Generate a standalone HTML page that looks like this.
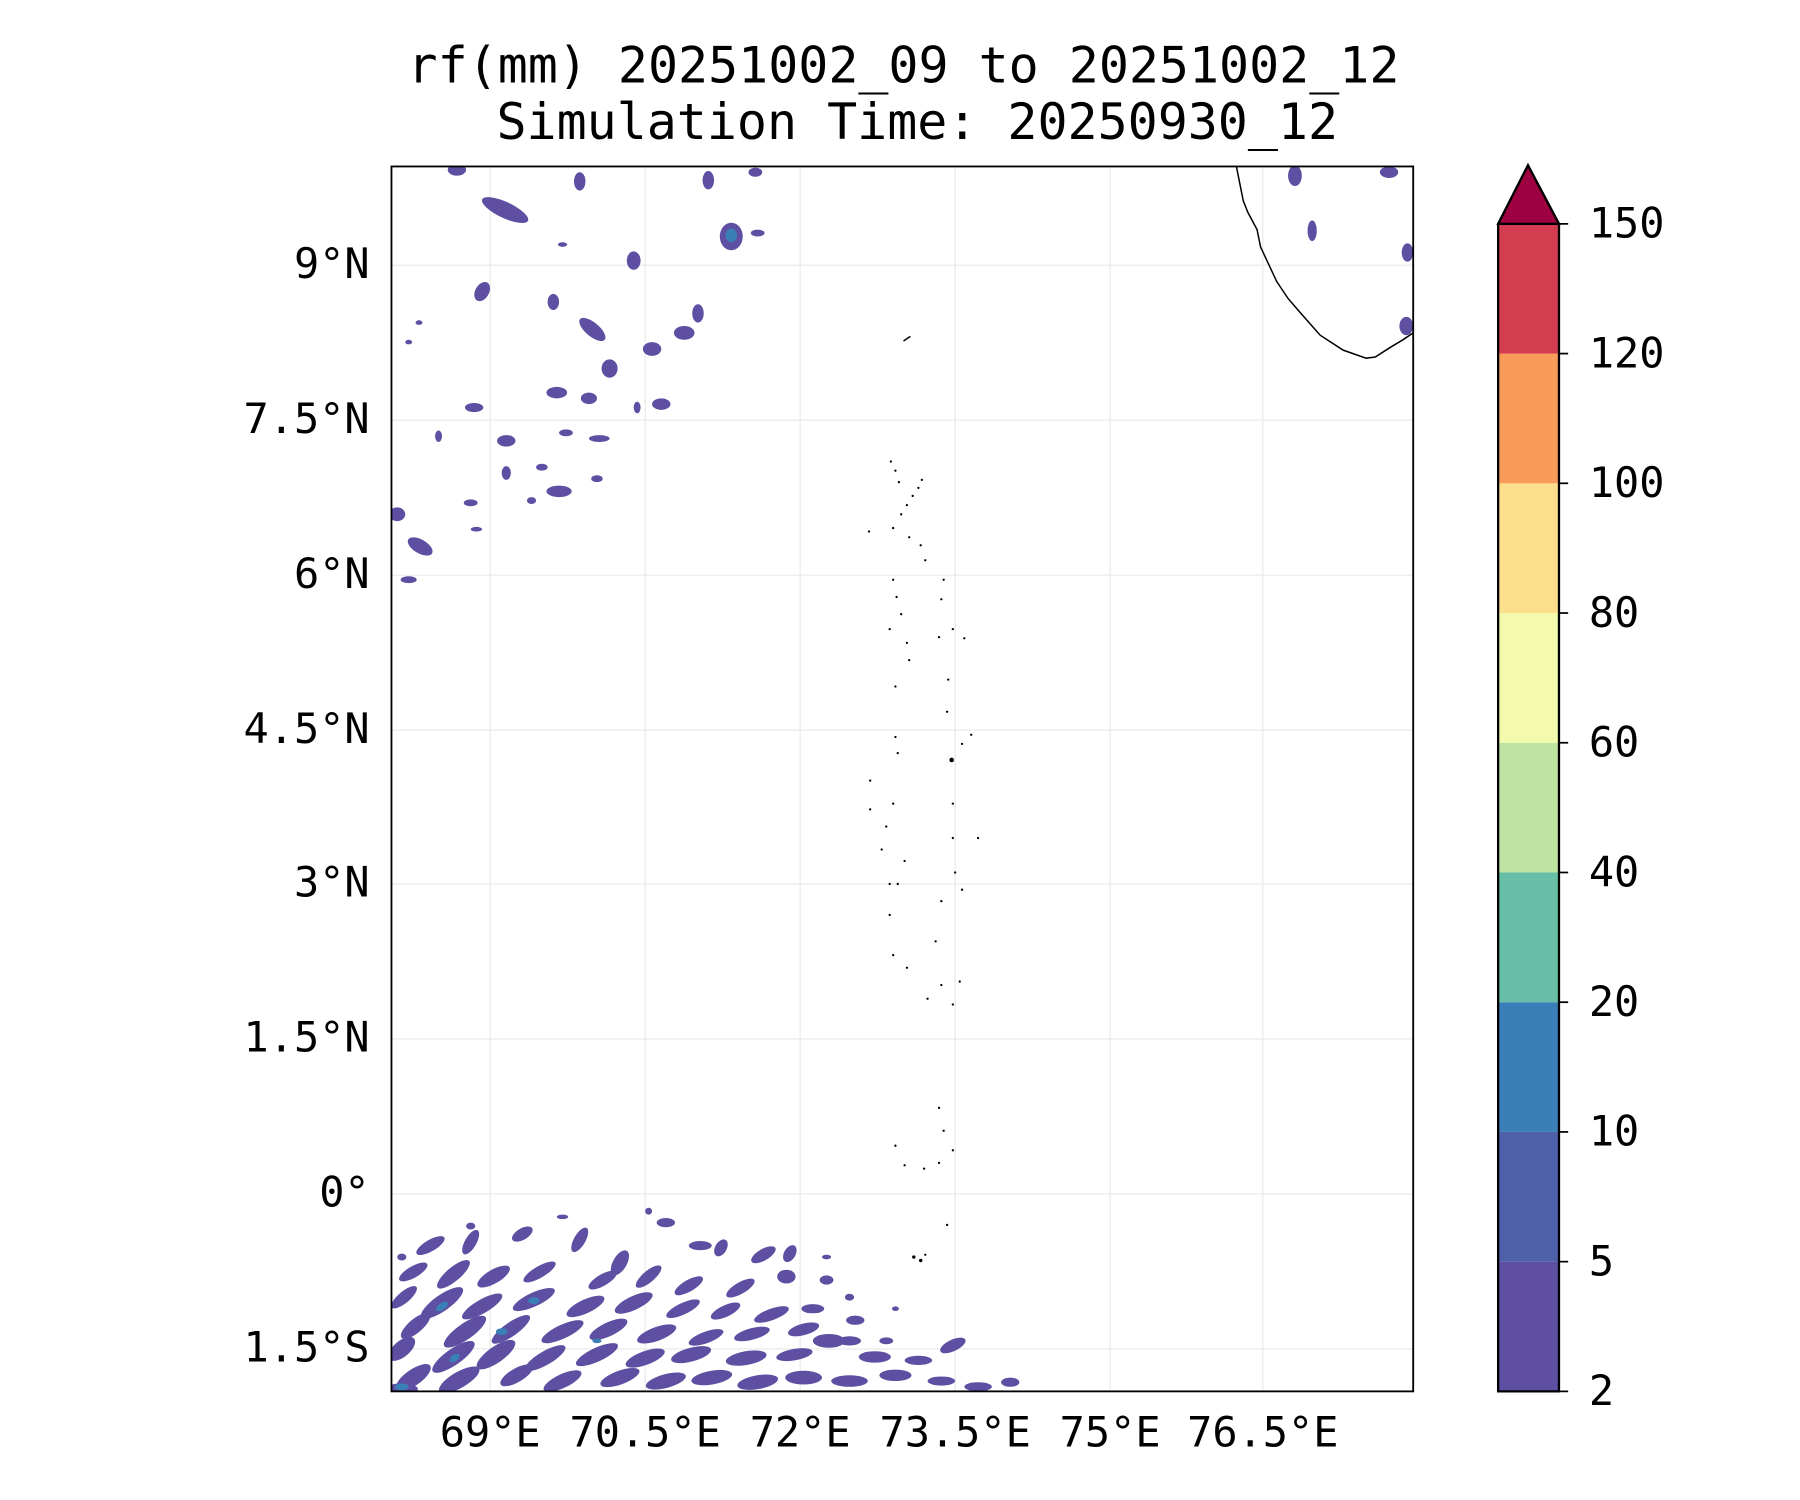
<!DOCTYPE html>
<html><head><meta charset="utf-8"><style>html,body{margin:0;padding:0;background:#fff}svg{display:block}</style></head>
<body>
<svg width="1800" height="1500" viewBox="0 0 1800 1500" xmlns="http://www.w3.org/2000/svg">
<g transform="scale(1.148)" font-family="'DejaVu Sans Mono','Liberation Mono',monospace">
<text x="787" y="72" font-size="43.5" text-anchor="middle">rf(mm) 20251002_09 to 20251002_12</text>
<text x="799" y="121" font-size="43.5" text-anchor="middle">Simulation Time: 20250930_12</text>
<g stroke="#e8e8e8" stroke-width="1">
<line x1="427" y1="145" x2="427" y2="1212"/><line x1="562" y1="145" x2="562" y2="1212"/><line x1="697" y1="145" x2="697" y2="1212"/><line x1="832" y1="145" x2="832" y2="1212"/><line x1="967" y1="145" x2="967" y2="1212"/><line x1="1100" y1="145" x2="1100" y2="1212"/>
<line x1="341" y1="231" x2="1231" y2="231"/><line x1="341" y1="366" x2="1231" y2="366"/><line x1="341" y1="501" x2="1231" y2="501"/><line x1="341" y1="636" x2="1231" y2="636"/><line x1="341" y1="770" x2="1231" y2="770"/><line x1="341" y1="905" x2="1231" y2="905"/><line x1="341" y1="1040" x2="1231" y2="1040"/><line x1="341" y1="1175" x2="1231" y2="1175"/>
</g>
<clipPath id="c"><rect x="341" y="145" width="890" height="1067"/></clipPath>
<g clip-path="url(#c)" fill="#5e4fa2">
<ellipse cx="398" cy="148" rx="8" ry="5"/><ellipse cx="440" cy="183" rx="22" ry="7" transform="rotate(25 440 183)"/><ellipse cx="505" cy="158" rx="5" ry="8"/><ellipse cx="552" cy="227" rx="6" ry="8"/><ellipse cx="617" cy="157" rx="5" ry="8"/><ellipse cx="637" cy="206" rx="10" ry="12"/><ellipse cx="660" cy="203" rx="6" ry="3"/><ellipse cx="658" cy="150" rx="6" ry="4"/><ellipse cx="490" cy="213" rx="4" ry="2"/>
<ellipse cx="420" cy="254" rx="6" ry="9" transform="rotate(30 420 254)"/><ellipse cx="482" cy="263" rx="5" ry="7"/><ellipse cx="516" cy="287" rx="14" ry="6" transform="rotate(40 516 287)"/><ellipse cx="568" cy="304" rx="8" ry="6"/><ellipse cx="596" cy="290" rx="9" ry="6"/><ellipse cx="608" cy="273" rx="5" ry="8"/><ellipse cx="531" cy="321" rx="7" ry="8"/><ellipse cx="485" cy="342" rx="9" ry="5"/><ellipse cx="513" cy="347" rx="7" ry="5"/><ellipse cx="576" cy="352" rx="8" ry="5"/><ellipse cx="413" cy="355" rx="8" ry="4"/><ellipse cx="441" cy="384" rx="8" ry="5"/><ellipse cx="493" cy="377" rx="6" ry="3"/><ellipse cx="522" cy="382" rx="9" ry="3"/><ellipse cx="382" cy="380" rx="3" ry="5"/><ellipse cx="487" cy="428" rx="11" ry="5"/><ellipse cx="520" cy="417" rx="5" ry="3"/><ellipse cx="463" cy="436" rx="4" ry="3"/><ellipse cx="346" cy="448" rx="7" ry="6"/><ellipse cx="366" cy="476" rx="12" ry="6" transform="rotate(30 366 476)"/><ellipse cx="356" cy="505" rx="7" ry="3"/><ellipse cx="441" cy="412" rx="4" ry="6"/><ellipse cx="410" cy="438" rx="6" ry="3"/><ellipse cx="472" cy="407" rx="5" ry="3"/><ellipse cx="356" cy="298" rx="3" ry="2"/><ellipse cx="365" cy="281" rx="3" ry="2"/><ellipse cx="415" cy="461" rx="5" ry="2"/><ellipse cx="555" cy="355" rx="3" ry="5"/>
<ellipse cx="1128" cy="153" rx="6" ry="9"/><ellipse cx="1143" cy="201" rx="4" ry="9"/><ellipse cx="1210" cy="150" rx="8" ry="5"/><ellipse cx="1226" cy="220" rx="5" ry="8"/><ellipse cx="1225" cy="284" rx="6" ry="8"/>
<ellipse cx="375" cy="1085" rx="14" ry="5" transform="rotate(-30 375 1085)"/><ellipse cx="410" cy="1082" rx="12" ry="5" transform="rotate(-60 410 1082)"/><ellipse cx="455" cy="1075" rx="10" ry="5" transform="rotate(-30 455 1075)"/><ellipse cx="505" cy="1080" rx="12" ry="5" transform="rotate(-60 505 1080)"/><ellipse cx="540" cy="1100" rx="12" ry="6" transform="rotate(-60 540 1100)"/><ellipse cx="580" cy="1065" rx="8" ry="4"/><ellipse cx="610" cy="1085" rx="10" ry="4"/><ellipse cx="628" cy="1087" rx="8" ry="5" transform="rotate(-60 628 1087)"/><ellipse cx="665" cy="1093" rx="12" ry="5" transform="rotate(-30 665 1093)"/><ellipse cx="688" cy="1092" rx="8" ry="5" transform="rotate(-60 688 1092)"/>
<ellipse cx="360" cy="1108" rx="14" ry="5" transform="rotate(-30 360 1108)"/><ellipse cx="395" cy="1110" rx="18" ry="6" transform="rotate(-40 395 1110)"/><ellipse cx="430" cy="1112" rx="16" ry="6" transform="rotate(-30 430 1112)"/><ellipse cx="470" cy="1108" rx="16" ry="5" transform="rotate(-30 470 1108)"/><ellipse cx="525" cy="1115" rx="14" ry="5" transform="rotate(-30 525 1115)"/><ellipse cx="565" cy="1112" rx="14" ry="5" transform="rotate(-40 565 1112)"/><ellipse cx="600" cy="1120" rx="14" ry="5" transform="rotate(-30 600 1120)"/><ellipse cx="645" cy="1122" rx="14" ry="5" transform="rotate(-30 645 1122)"/><ellipse cx="685" cy="1112" rx="8" ry="6"/><ellipse cx="720" cy="1115" rx="6" ry="4"/>
<ellipse cx="352" cy="1130" rx="14" ry="5" transform="rotate(-40 352 1130)"/><ellipse cx="385" cy="1135" rx="22" ry="7" transform="rotate(-35 385 1135)"/><ellipse cx="420" cy="1138" rx="20" ry="6" transform="rotate(-30 420 1138)"/><ellipse cx="465" cy="1132" rx="20" ry="6" transform="rotate(-25 465 1132)"/><ellipse cx="510" cy="1138" rx="18" ry="6" transform="rotate(-25 510 1138)"/><ellipse cx="552" cy="1135" rx="18" ry="6" transform="rotate(-25 552 1135)"/><ellipse cx="595" cy="1140" rx="16" ry="5" transform="rotate(-25 595 1140)"/><ellipse cx="632" cy="1142" rx="14" ry="5" transform="rotate(-25 632 1142)"/><ellipse cx="672" cy="1145" rx="16" ry="5" transform="rotate(-20 672 1145)"/><ellipse cx="708" cy="1140" rx="10" ry="4"/><ellipse cx="745" cy="1150" rx="8" ry="4"/>
<ellipse cx="362" cy="1155" rx="16" ry="6" transform="rotate(-40 362 1155)"/><ellipse cx="405" cy="1160" rx="22" ry="7" transform="rotate(-35 405 1160)"/><ellipse cx="445" cy="1158" rx="20" ry="6" transform="rotate(-35 445 1158)"/><ellipse cx="490" cy="1160" rx="20" ry="6" transform="rotate(-25 490 1160)"/><ellipse cx="530" cy="1158" rx="18" ry="6" transform="rotate(-25 530 1158)"/><ellipse cx="572" cy="1162" rx="18" ry="6" transform="rotate(-20 572 1162)"/><ellipse cx="615" cy="1165" rx="16" ry="5" transform="rotate(-20 615 1165)"/><ellipse cx="655" cy="1162" rx="16" ry="5" transform="rotate(-15 655 1162)"/><ellipse cx="700" cy="1158" rx="14" ry="5" transform="rotate(-15 700 1158)"/><ellipse cx="740" cy="1168" rx="10" ry="4"/><ellipse cx="772" cy="1168" rx="6" ry="3"/>
<ellipse cx="350" cy="1175" rx="14" ry="7" transform="rotate(-40 350 1175)"/><ellipse cx="395" cy="1182" rx="22" ry="7" transform="rotate(-35 395 1182)"/><ellipse cx="432" cy="1180" rx="20" ry="7" transform="rotate(-35 432 1180)"/><ellipse cx="475" cy="1183" rx="20" ry="6" transform="rotate(-30 475 1183)"/><ellipse cx="520" cy="1180" rx="20" ry="6" transform="rotate(-25 520 1180)"/><ellipse cx="562" cy="1183" rx="18" ry="6" transform="rotate(-20 562 1183)"/><ellipse cx="602" cy="1180" rx="18" ry="6" transform="rotate(-15 602 1180)"/><ellipse cx="650" cy="1183" rx="18" ry="6" transform="rotate(-10 650 1183)"/><ellipse cx="692" cy="1180" rx="16" ry="5" transform="rotate(-10 692 1180)"/><ellipse cx="722" cy="1168" rx="14" ry="6"/><ellipse cx="762" cy="1182" rx="14" ry="5"/><ellipse cx="800" cy="1185" rx="12" ry="4"/><ellipse cx="830" cy="1172" rx="12" ry="5" transform="rotate(-25 830 1172)"/>
<ellipse cx="360" cy="1200" rx="18" ry="7" transform="rotate(-35 360 1200)"/><ellipse cx="400" cy="1202" rx="20" ry="7" transform="rotate(-30 400 1202)"/><ellipse cx="450" cy="1198" rx="16" ry="6" transform="rotate(-30 450 1198)"/><ellipse cx="490" cy="1203" rx="18" ry="6" transform="rotate(-25 490 1203)"/><ellipse cx="540" cy="1200" rx="18" ry="6" transform="rotate(-20 540 1200)"/><ellipse cx="580" cy="1203" rx="18" ry="6" transform="rotate(-15 580 1203)"/><ellipse cx="620" cy="1200" rx="18" ry="6" transform="rotate(-10 620 1200)"/><ellipse cx="660" cy="1204" rx="18" ry="6" transform="rotate(-10 660 1204)"/><ellipse cx="700" cy="1200" rx="16" ry="6"/><ellipse cx="740" cy="1203" rx="16" ry="5"/><ellipse cx="780" cy="1198" rx="14" ry="5"/><ellipse cx="820" cy="1203" rx="12" ry="4"/><ellipse cx="852" cy="1208" rx="12" ry="4"/><ellipse cx="880" cy="1204" rx="8" ry="4"/><ellipse cx="350" cy="1210" rx="14" ry="5"/>
<ellipse cx="410" cy="1068" rx="4" ry="3"/><ellipse cx="490" cy="1060" rx="5" ry="2"/><ellipse cx="565" cy="1055" rx="3" ry="3"/><ellipse cx="350" cy="1095" rx="4" ry="3"/><ellipse cx="720" cy="1095" rx="4" ry="2"/><ellipse cx="740" cy="1130" rx="4" ry="3"/><ellipse cx="780" cy="1140" rx="3" ry="2"/>
<g fill="#3a7fb8"><ellipse cx="385" cy="1138" rx="6" ry="3" transform="rotate(-35 385 1138)"/><ellipse cx="437" cy="1160" rx="5" ry="3"/><ellipse cx="465" cy="1133" rx="5" ry="3"/><ellipse cx="350" cy="1208" rx="6" ry="3"/><ellipse cx="520" cy="1168" rx="4" ry="2"/><ellipse cx="396" cy="1183" rx="5" ry="3" transform="rotate(-35 396 1183)"/><ellipse cx="637" cy="205" rx="5" ry="6"/></g>
</g>
<g fill="none" stroke="#000" stroke-width="1.3" clip-path="url(#c)">
<path d="M1077 145 L1080 160 L1083 175 L1087 185 L1095 200 L1098 215 L1105 230 L1112 245 L1122 260 L1135 275 L1150 292 L1170 305 L1190 312 L1198 311 L1212 302 L1222 296 L1231 290"/>
<path d="M787 297 L793 293"/>
</g>
<g fill="#000">
<circle cx="776" cy="402" r="1"/><circle cx="780" cy="410" r="1"/><circle cx="783" cy="420" r="1"/><circle cx="790" cy="440" r="1"/><circle cx="795" cy="432" r="1"/><circle cx="800" cy="425" r="1"/><circle cx="803" cy="418" r="1"/><circle cx="785" cy="448" r="1"/><circle cx="778" cy="460" r="1"/><circle cx="792" cy="468" r="1"/><circle cx="802" cy="475" r="1"/><circle cx="806" cy="488" r="1"/><circle cx="757" cy="463" r="1"/><circle cx="778" cy="505" r="1"/><circle cx="781" cy="520" r="1"/><circle cx="785" cy="535" r="1"/><circle cx="775" cy="548" r="1"/><circle cx="790" cy="560" r="1"/><circle cx="792" cy="575" r="1"/><circle cx="780" cy="598" r="1"/><circle cx="822" cy="505" r="1"/><circle cx="820" cy="522" r="1"/><circle cx="818" cy="555" r="1"/><circle cx="830" cy="548" r="1"/><circle cx="840" cy="556" r="1"/><circle cx="826" cy="592" r="1"/><circle cx="825" cy="620" r="1"/><circle cx="838" cy="648" r="1"/><circle cx="846" cy="640" r="1"/><circle cx="829" cy="662" r="2"/><circle cx="780" cy="642" r="1"/><circle cx="782" cy="656" r="1"/><circle cx="758" cy="680" r="1"/><circle cx="778" cy="700" r="1"/><circle cx="758" cy="705" r="1"/><circle cx="772" cy="720" r="1"/><circle cx="768" cy="740" r="1"/><circle cx="788" cy="750" r="1"/><circle cx="830" cy="700" r="1"/><circle cx="830" cy="730" r="1"/><circle cx="852" cy="730" r="1"/><circle cx="832" cy="760" r="1"/><circle cx="838" cy="775" r="1"/><circle cx="775" cy="770" r="1"/><circle cx="782" cy="770" r="1"/><circle cx="820" cy="785" r="1"/><circle cx="775" cy="797" r="1"/><circle cx="815" cy="820" r="1"/><circle cx="778" cy="832" r="1"/><circle cx="790" cy="843" r="1"/><circle cx="820" cy="858" r="1"/><circle cx="808" cy="870" r="1"/><circle cx="830" cy="875" r="1"/><circle cx="836" cy="855" r="1"/><circle cx="818" cy="965" r="1"/><circle cx="822" cy="985" r="1"/><circle cx="780" cy="998" r="1"/><circle cx="788" cy="1015" r="1"/><circle cx="805" cy="1018" r="1"/><circle cx="818" cy="1013" r="1"/><circle cx="830" cy="1002" r="1"/><circle cx="825" cy="1067" r="1"/><circle cx="796" cy="1095" r="1.5"/><circle cx="802" cy="1098" r="1.5"/><circle cx="806" cy="1093" r="1"/>
</g>
<rect x="341" y="145" width="890" height="1067" fill="none" stroke="#000" stroke-width="1.6"/>
<g font-size="36.5" text-anchor="end">
<text x="322" y="242">9°N</text><text x="322" y="377">7.5°N</text><text x="322" y="512">6°N</text><text x="322" y="647">4.5°N</text><text x="322" y="781">3°N</text><text x="322" y="916">1.5°N</text><text x="322" y="1051">0°</text><text x="322" y="1186">1.5°S</text>
</g>
<g font-size="36.5" text-anchor="middle">
<text x="427" y="1260">69°E</text><text x="562" y="1260">70.5°E</text><text x="697" y="1260">72°E</text><text x="832" y="1260">73.5°E</text><text x="967" y="1260">75°E</text><text x="1100" y="1260">76.5°E</text>
</g>
<g>
<rect x="1305" y="1099" width="53" height="113" fill="#5e4fa2"/>
<rect x="1305" y="986" width="53" height="113" fill="#4f61aa"/>
<rect x="1305" y="873" width="53" height="113" fill="#3a7fb8"/>
<rect x="1305" y="760" width="53" height="113" fill="#66bfa6"/>
<rect x="1305" y="647" width="53" height="113" fill="#bde4a0"/>
<rect x="1305" y="534" width="53" height="113" fill="#f3faad"/>
<rect x="1305" y="421" width="53" height="113" fill="#fbdf8d"/>
<rect x="1305" y="308" width="53" height="113" fill="#f99c5a"/>
<rect x="1305" y="195" width="53" height="113" fill="#d43d4f"/>
<path d="M1305 1212 L1305 195 L1331 144 L1358 195 L1358 1212 Z" fill="none" stroke="#000" stroke-width="2"/>
<path d="M1305 195 L1331 144 L1358 195 Z" fill="#9e0142" stroke="#000" stroke-width="2"/>
</g>
<g stroke="#000" stroke-width="1.5">
<line x1="1358" y1="1212" x2="1366" y2="1212"/><line x1="1358" y1="1099" x2="1366" y2="1099"/><line x1="1358" y1="986" x2="1366" y2="986"/><line x1="1358" y1="873" x2="1366" y2="873"/><line x1="1358" y1="760" x2="1366" y2="760"/><line x1="1358" y1="647" x2="1366" y2="647"/><line x1="1358" y1="534" x2="1366" y2="534"/><line x1="1358" y1="421" x2="1366" y2="421"/><line x1="1358" y1="308" x2="1366" y2="308"/><line x1="1358" y1="195" x2="1366" y2="195"/>
</g>
<g font-size="36.5">
<text x="1384" y="1224">2</text><text x="1384" y="1111">5</text><text x="1384" y="998">10</text><text x="1384" y="885">20</text><text x="1384" y="772">40</text><text x="1384" y="659">60</text><text x="1384" y="546">80</text><text x="1384" y="433">100</text><text x="1384" y="320">120</text><text x="1384" y="207">150</text>
</g>
</g>
</svg>
</body></html>
